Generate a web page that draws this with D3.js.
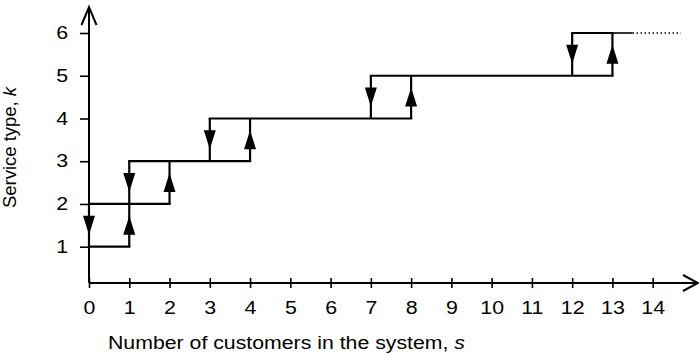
<!DOCTYPE html>
<html>
<head>
<meta charset="utf-8">
<script src="https://cdn.jsdelivr.net/npm/d3@7"></script>
<style>
  body { margin: 0; background: #fff; }
  svg { display: block; }
  text { font-family: Arial, "Liberation Sans", sans-serif; fill: #000; }
</style>
</head>
<body>
<svg id="chart" width="699" height="359"></svg>
<script>
// customers in system (s) and service type (k)
const sTicks = [0, 1, 2, 3, 4, 5, 6, 7, 8, 9, 10, 11, 12, 13, 14];
const kTicks = [1, 2, 3, 4, 5, 6];

// horizontal pieces: [k, s from, s to]
const levels = [[1, 0, 1], [2, 0, 2], [3, 1, 4], [4, 3, 8], [5, 7, 13], [6, 12, 13]];
// vertical switches: [s, k from, k to]  (arrow points towards "to")
const switches = [[0, 2, 1], [1, 1, 2], [1, 3, 2], [2, 2, 3], [3, 4, 3], [4, 3, 4],
                  [7, 5, 4], [8, 4, 5], [12, 6, 5], [13, 5, 6]];
// tail of the top level, then dotted continuation
const tail = [6, 13, 13.5];
const dotted = [6, 13.5, 14.7];

const xLabel = "Number of customers in the system, ";
const yLabel = "Service type, ";
const stretch = 1.22;

const svg = d3.select("#chart");

const x = d3.scaleLinear().domain([0, 14]).range([89, 652.7]);
const y = d3.scaleLinear().domain([1, 6]).range([246.7, 33]);
const axisY = 283;

// axes
const xAxis = d3.axisBottom(x).tickValues(sTicks).tickFormat(d3.format("d")).tickSize(5).tickPadding(14);
const gx = svg.append("g")
              .attr("transform", `translate(0, ${axisY})`)
              .call(xAxis);
gx.select(".domain").remove();
gx.selectAll(".tick line").attr("y1", -5).attr("stroke", "#000").attr("stroke-width", 1.6);
gx.selectAll(".tick text").attr("font-size", 17.5).attr("font-family", null);

const yAxis = d3.axisLeft(y).tickValues(kTicks).tickFormat(d3.format("d")).tickSize(9).tickPadding(12);
const gy = svg.append("g")
              .attr("transform", `translate(${x(0)}, 0)`)
              .call(yAxis);
gy.select(".domain").remove();
gy.selectAll(".tick line").attr("stroke", "#000").attr("stroke-width", 1.6);
gy.selectAll(".tick text").attr("font-size", 17.5).attr("font-family", null);

// axis lines with open arrow heads
svg.append("path")
   .attr("d", `M${x(0)},${axisY}V7M${x(0) - 7.5},25L${x(0)},7L${x(0) + 7.5},25`)
   .attr("fill", "none").attr("stroke", "#000").attr("stroke-width", 2);
svg.append("path")
   .attr("d", `M${x(0)},${axisY}H698M683,275L698,${axisY}L683,291`)
   .attr("fill", "none").attr("stroke", "#000").attr("stroke-width", 2);

// step lines
svg.append("g").selectAll("line.level").data(levels).enter()
   .append("line")
   .attr("x1", d => x(d[1])).attr("x2", d => x(d[2]))
   .attr("y1", d => y(d[0])).attr("y2", d => y(d[0]))
   .attr("stroke", "#000").attr("stroke-width", 2.2).attr("stroke-linecap", "square");

svg.append("g").selectAll("line.switch").data(switches).enter()
   .append("line")
   .attr("x1", d => x(d[0])).attr("x2", d => x(d[0]))
   .attr("y1", d => y(d[1])).attr("y2", d => y(d[2]))
   .attr("stroke", "#000").attr("stroke-width", 2.2);

svg.append("line")
   .attr("x1", x(tail[1])).attr("x2", x(tail[2]))
   .attr("y1", y(tail[0])).attr("y2", y(tail[0]))
   .attr("stroke", "#000").attr("stroke-width", 1.6);

svg.append("line")
   .attr("x1", x(dotted[1])).attr("x2", x(dotted[2]))
   .attr("y1", y(dotted[0])).attr("y2", y(dotted[0]))
   .attr("stroke", "#000").attr("stroke-width", 1.5).attr("stroke-dasharray", "1.5,2.5");

// filled arrow heads at the middle of each switch
svg.append("g").selectAll("path").data(switches).enter()
   .append("path")
   .attr("d", d => {
       const cx = x(d[0]);
       const cy = (y(d[1]) + y(d[2])) / 2;
       const dir = d[2] > d[1] ? -1 : 1;  // -1 up, 1 down
       const tip = cy + dir * 9.5, base = cy - dir * 9.5;
       return `M${cx - 6},${base}L${cx + 6},${base}L${cx},${tip}Z`;
   })
   .attr("fill", "#000");

// axis titles
const xt = svg.append("text")
   .attr("x", 286.5).attr("y", 349)
   .attr("text-anchor", "middle").attr("font-size", 18);
xt.append("tspan").text(xLabel);
xt.append("tspan").attr("font-style", "italic").text("s");

const yt = svg.append("text")
   .attr("transform", "translate(16, 147.5) rotate(-90)")
   .attr("text-anchor", "middle").attr("font-size", 18);
yt.append("tspan").text(yLabel);
yt.append("tspan").attr("font-style", "italic").text("k");

// horizontal stretch to match the original's wide lettering
svg.selectAll(".tick text").each(function () {
    const w = this.getComputedTextLength();
    d3.select(this).attr("textLength", w * stretch).attr("lengthAdjust", "spacingAndGlyphs");
});
xt.attr("textLength", 357).attr("lengthAdjust", "spacingAndGlyphs");
yt.attr("textLength", 121).attr("lengthAdjust", "spacingAndGlyphs");
</script>
</body>
</html>
